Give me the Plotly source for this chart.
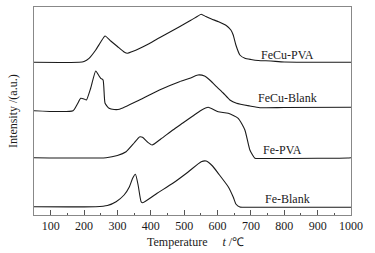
import plotly.graph_objects as go

# Temperature (°C) and offset intensity (a.u., stacked)
fecu_pva_t = [50, 185, 200, 215, 235, 250, 263, 280, 300, 320, 330, 345, 366, 396, 426, 456, 486, 520, 540, 551,
              565, 582, 605, 627, 640, 647, 655, 667, 682, 700, 722, 760, 800, 1000]
fecu_pva_y = [62.3, 62.3, 61.5, 58.3, 50, 42, 36, 41, 46.5, 52, 53.3, 51.5, 48.5, 43.5, 37.8, 32.2, 26.7, 20.3, 16.3,
              14.3, 16.5, 19, 22, 25.7, 30, 35, 45, 55, 58.3, 59.5, 60.5, 61, 62, 62.3]

fecu_blank_t = [50, 167, 180, 190, 200, 207, 220, 235, 245, 250, 257, 263, 275, 290, 306, 366, 426, 486, 517, 541,
                561, 580, 597, 617, 637, 657, 697, 727, 800, 1000]
fecu_blank_y = [110.7, 110.7, 104, 98.3, 99, 100, 88, 71, 76, 78.3, 80, 103.3, 108.3, 109.5, 109.3, 100, 90, 81.7,
                78.3, 75, 76, 81, 86.7, 93, 100, 103.3, 106, 107.7, 107.5, 107.3]

fe_pva_t = [50, 266, 300, 326, 350, 366, 375, 390, 404, 430, 466, 496, 526, 550, 572, 602, 632, 662, 682, 697, 712,
            730, 900, 990, 1000]
fe_pva_y = [157.7, 157.7, 155.5, 151.7, 143, 137, 137.3, 142, 145, 139, 130, 123, 116, 110.5, 107.3, 111.7, 113.3,
            118.3, 130, 150, 158.3, 158.5, 158.3, 158, 157.7]

fe_blank_t = [50, 235, 270, 296, 320, 336, 346, 354, 362, 371, 376, 420, 466, 510, 551, 566, 585, 602, 632, 647,
              655, 667, 700, 1000]
fe_blank_y = [206.7, 206.7, 205.5, 201.7, 195, 186.7, 178, 174.3, 185, 201.7, 202.7, 193, 183.3, 172.5, 161.7, 161,
              166, 173.3, 186.7, 197, 204, 207, 207.3, 207.3]

labels = ["FeCu-PVA", "FeCu-Blank", "Fe-PVA", "Fe-Blank"]
label_x = [811, 811, 795, 811]
label_y = [55, 98, 150, 199]

x_ticks = [100, 200, 300, 400, 500, 600, 700, 800, 900, 1000]

TOP = 215.0  # converts picture-down reading to upward intensity

fig = go.Figure()
series = [(fecu_pva_t, fecu_pva_y), (fecu_blank_t, fecu_blank_y), (fe_pva_t, fe_pva_y), (fe_blank_t, fe_blank_y)]
for (t, y), name in zip(series, labels):
    fig.add_trace(go.Scatter(x=t, y=[TOP - v for v in y], mode="lines", name=name,
                             line=dict(color="#1a1a1a", width=1.1, shape="spline", smoothing=0.5),
                             showlegend=False, hoverinfo="skip"))

for name, lx, ly in zip(labels, label_x, label_y):
    fig.add_annotation(x=lx, y=TOP - ly, text=name, showarrow=False, xref="x", yref="y",
                       font=dict(family="Liberation Serif", size=12, color="#1a1a1a"))

fig.add_annotation(xref="paper", yref="paper", x=0.51, y=-0.085, yanchor="top", showarrow=False,
                   text="Temperature&nbsp;&nbsp;&nbsp;&nbsp;&nbsp;<i>t</i> /℃",
                   font=dict(family="Liberation Serif", size=12, color="#1a1a1a"))
fig.add_annotation(xref="paper", yref="paper", x=-0.038, y=0.5, xanchor="right", showarrow=False,
                   text="Intensity /(a.u.)", textangle=-90,
                   font=dict(family="Liberation Serif", size=12, color="#1a1a1a"))

fig.update_xaxes(range=[50, 1000], tickvals=x_ticks, ticks="inside", ticklen=5, tickcolor="#555",
                 minor=dict(ticks="inside", ticklen=2.5, dtick=50, tick0=50, tickcolor="#555"),
                 showline=True, linecolor="#888", linewidth=1, mirror=True, showgrid=False, zeroline=False,
                 tickfont=dict(family="Liberation Serif", size=12, color="#1a1a1a"))
fig.update_yaxes(range=[0, 208], showticklabels=False, ticks="", showline=True, linecolor="#888",
                 linewidth=1, mirror=True, showgrid=False, zeroline=False)

fig.update_layout(width=375, height=253, margin=dict(l=34, r=24, t=7, b=38),
                  plot_bgcolor="white", paper_bgcolor="white")

fig.write_html("out.html", config={"displayModeBar": False},
               post_script="document.body.style.margin='0';document.body.style.padding='0';")
